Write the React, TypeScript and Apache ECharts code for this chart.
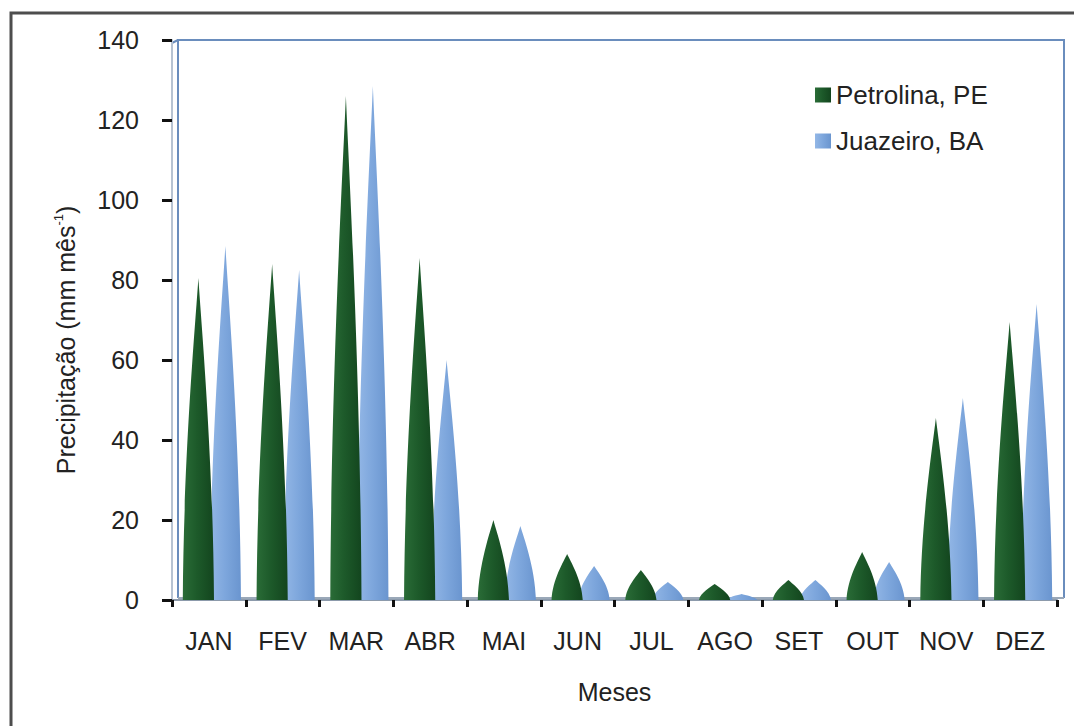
import React, { useEffect, useRef } from "react";
import * as echarts from "echarts";

// Monthly rainfall normals (mm per month)
const months = ["JAN", "FEV", "MAR", "ABR", "MAI", "JUN", "JUL", "AGO", "SET", "OUT", "NOV", "DEZ"];
const petrolina = [80.5, 84, 126, 85.5, 20, 11.5, 7.5, 4, 5, 12, 45.5, 69.5];
const juazeiro = [88.5, 82.5, 128.5, 60, 18.5, 8.5, 4.5, 1.5, 5, 9.5, 50.5, 74];
const yTicks = { min: 0, max: 140, interval: 20 };
const seriesNames = ["Petrolina, PE", "Juazeiro, BA"];

const FONT = "Liberation Sans, Arial, Helvetica, sans-serif";

// plot box in pixels
const G = { left: 172, right: 17, top: 40, bottom: 126 };
const W = 1074;
const H = 726;

// slightly flared cone with a pointed tip
const CONE = "path://M0,100 C3,55 40,15 50,0 C60,15 97,55 100,100 Z";

const greenFill = new echarts.graphic.LinearGradient(0, 0, 1, 0, [
  { offset: 0, color: "#2a6c37" },
  { offset: 0.45, color: "#1d5a2a" },
  { offset: 1, color: "#13451e" },
]);
const blueFill = new echarts.graphic.LinearGradient(0, 0, 1, 0, [
  { offset: 0, color: "#93b7e6" },
  { offset: 0.5, color: "#7da6dc" },
  { offset: 1, color: "#6a95cf" },
]);

export default function App() {
  const ref = useRef<HTMLDivElement>(null);

  useEffect(() => {
    if (!ref.current) return;
    const chart = echarts.init(ref.current, null, { renderer: "svg" });
    const wallLeft = G.left + 6;
    const wallRight = W - G.right + 7;
    const floorY = H - G.bottom - 2;

    chart.setOption({
      animation: false,
      backgroundColor: "#ffffff",
      textStyle: { fontFamily: FONT },
      grid: { left: G.left, right: G.right, top: G.top, bottom: G.bottom, containLabel: false },
      legend: {
        orient: "vertical",
        left: 810,
        top: 77,
        itemWidth: 16,
        itemHeight: 15,
        itemGap: 20,
        icon: "rect",
        textStyle: { fontSize: 26, color: "#222", fontFamily: FONT },
        data: seriesNames,
      },
      xAxis: {
        type: "category",
        data: months,
        name: "Meses",
        nameLocation: "middle",
        nameGap: 79,
        nameTextStyle: { fontSize: 25, color: "#222", fontFamily: FONT },
        axisLine: { show: true, lineStyle: { color: "#8c9aab", width: 2 } },
        axisTick: { show: true, length: 7, lineStyle: { color: "#111", width: 3 } },
        axisLabel: { fontSize: 25, color: "#222", margin: 28, fontFamily: FONT },
        splitLine: { show: false },
      },
      yAxis: {
        type: "value",
        min: yTicks.min,
        max: yTicks.max,
        interval: yTicks.interval,
        name: "{a|Precipitação (mm mês}{s|-1}{a|)}",
        nameLocation: "middle",
        nameGap: 92,
        nameTextStyle: {
          padding: [0, 40, 0, 0],
          rich: {
            a: { fontSize: 25, color: "#222", fontFamily: FONT, lineHeight: 28 },
            s: { fontSize: 13, color: "#222", fontFamily: FONT, lineHeight: 13, verticalAlign: "top" },
          },
        },
        axisLine: { show: true, lineStyle: { color: "#b7c3d2", width: 2 } },
        axisTick: { show: true, inside: false, length: 10, lineStyle: { color: "#111", width: 3 } },
        axisLabel: { fontSize: 25, color: "#222", margin: 33, fontFamily: FONT },
        splitLine: { show: false },
      },
      graphic: [
        // outer frame
        {
          type: "rect",
          shape: { x: 11, y: 13, width: 1100, height: 800 },
          style: { fill: "none", stroke: "#4d4d4d", lineWidth: 3 },
          silent: true,
        },
        // back wall of the plot
        {
          type: "polyline",
          shape: {
            points: [
              [wallLeft, floorY],
              [wallLeft, G.top],
              [wallRight, G.top],
              [wallRight, floorY],
            ],
          },
          style: { fill: "none", stroke: "#6a8dbd", lineWidth: 2 },
          silent: true,
          z: 0,
        },
        {
          type: "line",
          shape: { x1: G.left, y1: G.top + 3, x2: wallLeft, y2: G.top },
          style: { stroke: "#6a8dbd", lineWidth: 2 },
          silent: true,
        },
        {
          type: "line",
          shape: { x1: wallLeft, y1: floorY, x2: wallRight, y2: floorY },
          style: { stroke: "#9aa8b8", lineWidth: 2 },
          silent: true,
        },
      ],
      series: [
        {
          name: seriesNames[0],
          type: "pictorialBar",
          symbol: CONE,
          symbolSize: ["100%", "100%"],
          symbolOffset: [3, 0],
          barWidth: 31,
          barGap: "-13%",
          itemStyle: { color: greenFill },
          data: petrolina,
          z: 3,
        },
        {
          name: seriesNames[1],
          type: "pictorialBar",
          symbol: CONE,
          symbolSize: ["100%", "100%"],
          symbolOffset: [3, 0],
          barWidth: 31,
          barGap: "-13%",
          itemStyle: { color: blueFill },
          data: juazeiro,
          z: 2,
        },
      ],
      color: ["#1d5a2a", "#7da6dc"],
    });

    return () => chart.dispose();
  }, []);

  return (
    <div
      ref={ref}
      style={{ position: "absolute", left: 0, top: 0, width: W, height: H }}
    />
  );
}
